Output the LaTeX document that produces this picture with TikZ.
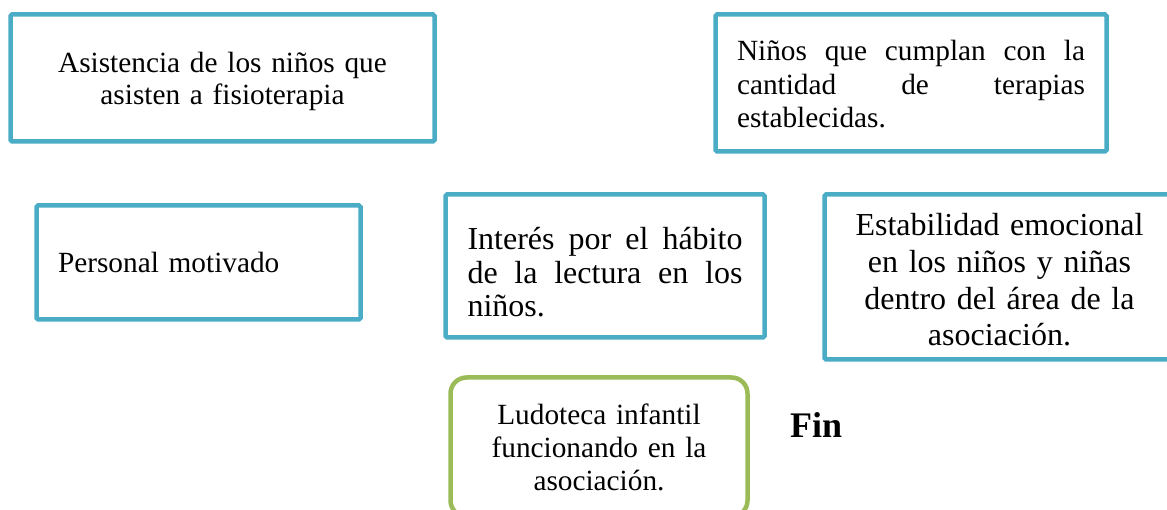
\documentclass[tikz,border=0pt]{standalone}
\usepackage{fontspec}
\setmainfont{Liberation Serif}
\usepackage{xcolor}
\usepackage{tikz}
\definecolor{aqua}{HTML}{4BACC6}
\definecolor{verde}{HTML}{9BBB59}
\tikzset{
  caja/.style={draw=aqua, line width=4.5pt, rounded corners=1.5pt, inner sep=0pt, text=black},
  cajav/.style={draw=verde, line width=4.5pt, rounded corners=16pt, inner sep=0pt, text=black},
  fin/.style={font=\bfseries\fontsize{36}{40}\selectfont, inner sep=0pt},
}
\begin{document}
\begin{tikzpicture}[x=1pt, y=-1pt]
  \path[use as bounding box, clip] (0,0) rectangle (1167,510);
  \node[caja, minimum width=424pt, minimum height=127pt, text width=380pt, align=center,
        font=\fontsize{29.3}{32.5}\selectfont] (asist) at (222.5,78)
        {\rule{0pt}{27pt}Asistencia de los niños que\\asisten a fisioterapia};
  \node[caja, minimum width=391pt, minimum height=137pt, text width=348pt, align=justify,
        font=\fontsize{29.3}{33.5}\selectfont] (terap) at (911,83)
        {\rule{0pt}{23pt}Niños que cumplan con la\linebreak cantidad de terapias\linebreak establecidas.};
  \node[caja, minimum width=324pt, minimum height=114pt, text width=281pt, align=left,
        font=\fontsize{29.3}{33.5}\selectfont] (pers) at (198.5,262.5)
        {Personal motivado};
  \node[caja, minimum width=319pt, minimum height=143pt, text width=275pt, align=justify,
        font=\fontsize{32}{33.3}\selectfont] (lect) at (605,266)
        {\rule{0pt}{35pt}Interés por el hábito\linebreak de la lectura en los\linebreak niños.};
  \node[caja, minimum width=350pt, minimum height=165pt, text width=310pt, align=center,
        font=\fontsize{32}{36.7}\selectfont] (estab) at (999.5,277)
        {\rule{0pt}{28pt}Estabilidad emocional\\en los niños y niñas\\dentro del área de la\\asociación.};
  \node[cajav, minimum width=297pt, minimum height=139pt, text width=250pt, align=center,
        font=\fontsize{29.3}{33}\selectfont] (ludo) at (599,447)
        {Ludoteca infantil\\funcionando en la\\asociación.};
  \node[fin, anchor=base west] (fin) at (790,437) {Fin};
\end{tikzpicture}
\end{document}
